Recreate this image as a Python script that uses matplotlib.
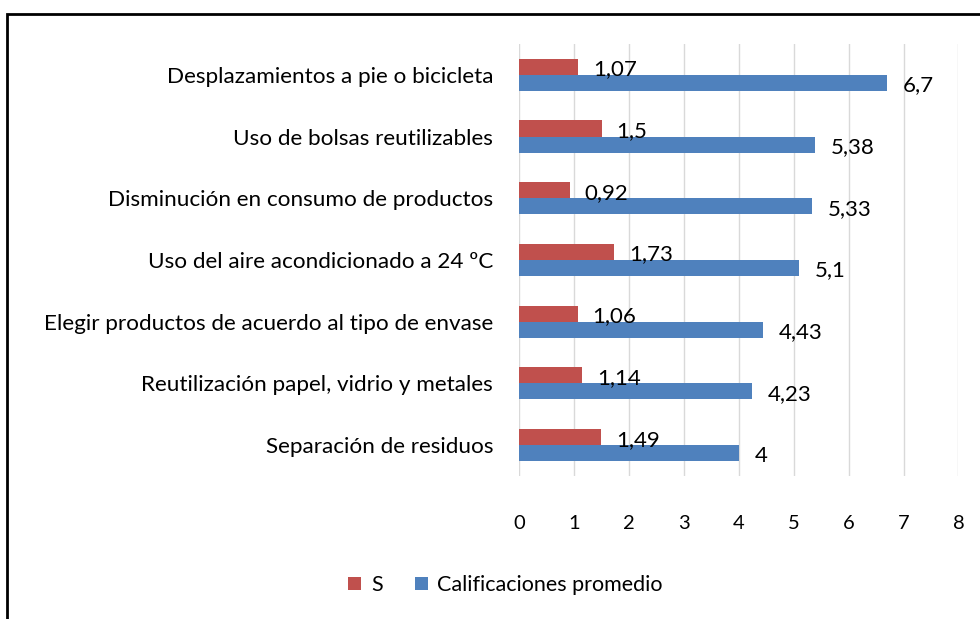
import matplotlib
matplotlib.use("Agg")
import matplotlib.pyplot as plt
import numpy as np
from matplotlib.patches import Rectangle

plt.rcParams['font.family'] = ['Lato', 'DejaVu Sans']

# data (top to bottom)
categorias = ["Desplazamientos a pie o bicicleta",
              "Uso de bolsas reutilizables",
              "Disminución en consumo de productos",
              "Uso del aire acondicionado a 24 ºC",
              "Elegir productos de acuerdo al tipo de envase",
              "Reutilización papel, vidrio y metales",
              "Separación de residuos"]
s_vals = [1.07, 1.5, 0.92, 1.73, 1.06, 1.14, 1.49]
promedio = [6.7, 5.38, 5.33, 5.1, 4.43, 4.23, 4]
xticks = [0, 1, 2, 3, 4, 5, 6, 7, 8]

red = '#C0504D'
blue = '#4F81BD'

def fmt(v):
    # decimal comma, no trailing zeros
    return ('%g' % v).replace('.', ',')

fig = plt.figure(figsize=(9.8, 6.19), dpi=100)
ax = fig.add_axes([0.530, 0.231, 0.448, 0.698])

y = np.arange(len(categorias))
h = 0.26
ax.barh(y - h/2, s_vals, height=h, color=red, label='S', zorder=3)
ax.barh(y + h/2, promedio, height=h, color=blue, label='Calificaciones promedio', zorder=3)

for yi, v in zip(y, s_vals):
    ax.text(v + 0.27, yi - h/2 + 0.04, fmt(v), va='center', ha='left', fontsize=16, zorder=4)
for yi, v in zip(y, promedio):
    ax.text(v + 0.29, yi + h/2 + 0.04, fmt(v), va='center', ha='left', fontsize=16, zorder=4)

ax.set_xlim(0, 8)
ax.set_ylim(len(categorias) - 0.5, -0.5)
ax.set_xticks(xticks)
ax.set_xticklabels([str(t) for t in xticks])
ax.set_yticks(y)
ax.set_yticklabels(categorias)
ax.tick_params(axis='x', length=0, labelsize=14.5, pad=28)
ax.tick_params(axis='y', length=0, labelsize=16.2, pad=19)
ax.grid(axis='x', color='#d9d9d9', linewidth=1, zorder=0)
for sp in ax.spines.values():
    sp.set_visible(False)

leg = fig.legend(loc='center', bbox_to_anchor=(0.516, 0.055), ncol=2, frameon=False,
                 fontsize=15.5, handlelength=0.6, handleheight=0.6, handletextpad=0.45,
                 columnspacing=1.5)

# outer frame of the chart
fig.patches.append(Rectangle((0.007, -0.1), 1.1, 0.1 + 0.977, transform=fig.transFigure,
                             fill=False, edgecolor='black', linewidth=2, clip_on=False))

fig.savefig('out.png', dpi=100)
